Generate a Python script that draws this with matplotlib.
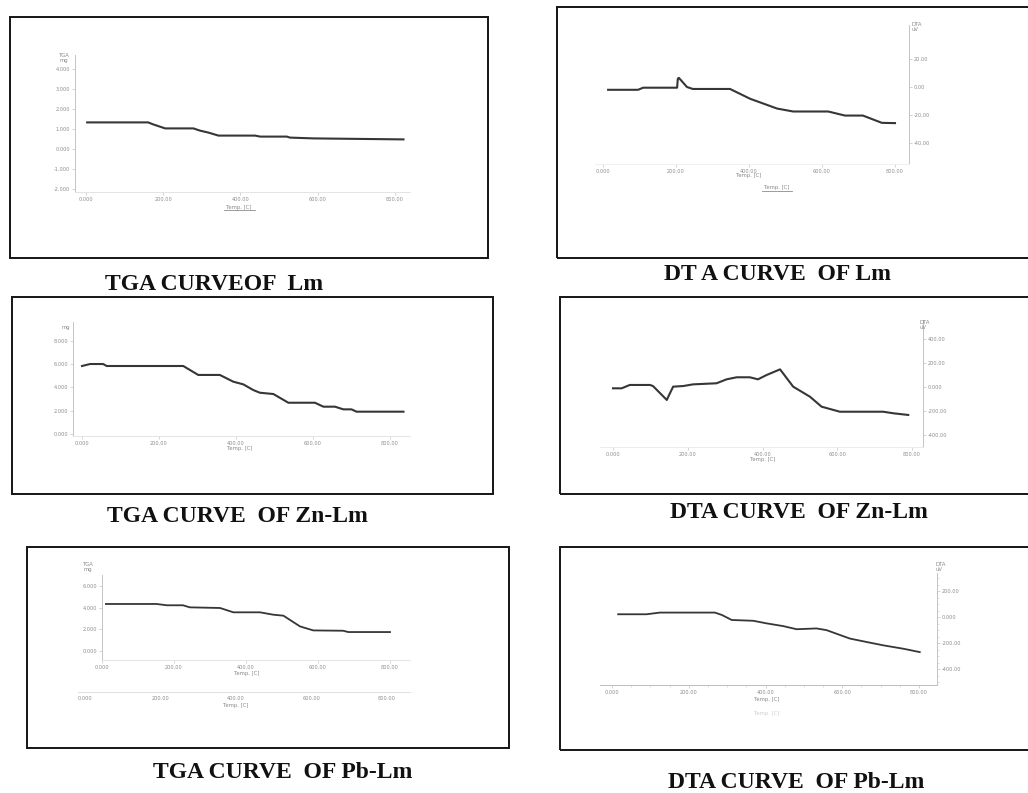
import matplotlib
matplotlib.use("Agg")
import matplotlib.pyplot as plt
from matplotlib.patches import Rectangle
from matplotlib.lines import Line2D

# ---------------- data ----------------
temp_ticks = [0, 200, 400, 600, 800]
temp_labels = ["0.000", "200.00", "400.00", "600.00", "800.00"]

# TGA of Lm (mg)
tga_lm_t = [3, 161, 174, 205, 278, 295, 317, 343, 438, 451, 520, 528, 589, 822]
tga_lm_v = [1.33, 1.33, 1.23, 1.03, 1.03, 0.92, 0.82, 0.67, 0.67, 0.62, 0.62, 0.57, 0.53, 0.48]
tga_lm_yticks = [4, 3, 2, 1, 0, -1, -2]
tga_lm_ylabels = ["4.000", "3.000", "2.000", "1.000", "0.000", "-1.000", "-2.000"]

# DTA of Lm (uV)
dta_lm_t = [14, 96, 110, 203, 205, 208, 230, 246, 348, 403, 477, 521, 617, 663, 712, 764, 800]
dta_lm_v = [-2, -2, -0.5, -0.5, 6.0, 6.5, 0, -1.4, -1.4, -8.4, -15.4, -17.5, -17.5, -20.4, -20.4, -25.6, -25.8]
dta_lm_yticks = [20, 0, -20, -40]
dta_lm_ylabels = ["20.00", "0.00", "-20.00", "-40.00"]

# TGA of Zn-Lm (mg)
tga_zn_t = [0, 21, 55, 64, 263, 302, 358, 393, 419, 445, 462, 497, 536, 605, 627, 657, 679, 700, 713, 835]
tga_zn_v = [5.85, 6.02, 6.02, 5.85, 5.85, 5.08, 5.08, 4.5, 4.27, 3.78, 3.55, 3.44, 2.69, 2.69, 2.35, 2.35, 2.12, 2.12, 1.92, 1.92]
tga_zn_yticks = [8, 6, 4, 2, 0]
tga_zn_ylabels = ["8.000", "6.000", "4.000", "2.000", "0.000"]

# DTA of Zn-Lm (uV)
dta_zn_t = [0, 23, 45, 99, 107, 144, 150, 161, 188, 214, 277, 304, 331, 366, 388, 411, 447, 482, 527, 558, 607, 723, 750, 790]
dta_zn_v = [-11, -11, 17, 17, 8, -108, -67, 3, 8, 22, 31, 64, 81, 81, 64, 100, 147, 3, -81, -164, -206, -206, -219, -233]
dta_zn_yticks = [400, 200, 0, -200, -400]
dta_zn_ylabels = ["400.00", "200.00", "0.000", "-200.00", "-400.00"]

# TGA of Pb-Lm (mg)
tga_pb_t = [11, 152, 180, 225, 244, 328, 365, 439, 476, 504, 550, 587, 670, 684, 800]
tga_pb_v = [4.34, 4.34, 4.22, 4.22, 4.03, 3.97, 3.57, 3.57, 3.35, 3.26, 2.27, 1.9, 1.87, 1.75, 1.75]
tga_pb_yticks = [6, 4, 2, 0]
tga_pb_ylabels = ["6.000", "4.000", "2.000", "0.000"]

# DTA of Pb-Lm (uV)
dta_pb_t = [16, 90, 125, 268, 286, 312, 368, 403, 446, 481, 533, 559, 620, 663, 707, 759, 802]
dta_pb_v = [21, 21, 34, 34, 16, -23, -29, -49, -70, -94, -88, -101, -166, -192, -218, -244, -270]
dta_pb_yticks = [200, 0, -200, -400]
dta_pb_ylabels = ["200.00", "0.000", "-200.00", "-400.00"]

captions = ["TGA CURVEOF  Lm", "DT A CURVE  OF Lm",
            "TGA CURVE  OF Zn-Lm", "DTA CURVE  OF Zn-Lm",
            "TGA CURVE  OF Pb-Lm", "DTA CURVE  OF Pb-Lm"]

# ---------------- layout helpers (pixel coordinates) ----------------
W, H = 1028, 793
fig = plt.figure(figsize=(W / 100, H / 100), dpi=100)
fig.patch.set_facecolor("white")

CURVE = "#363636"
TICKTXT = "#8c8c8c"
SPINE = "#c4c4c4"


def fx(px):
    return px / W


def fy(py):
    return 1 - py / H


def frame(l, t, r, b):
    fig.patches.append(Rectangle((fx(l), fy(b)), (r - l) / W, (b - t) / H,
                                 transform=fig.transFigure, fill=False,
                                 ec="#151515", lw=1.4))


def lin(p, m):
    p0, v0, p1, v1 = m
    return v0 + (p - p0) * (v1 - v0) / (p1 - p0)


def panel(rect, xmap, ymap, side, yticks, ylabels, bottom_color="#e4e4e4"):
    l, t, r, b = rect
    ax = fig.add_axes([fx(l), fy(b), (r - l) / W, (b - t) / H])
    ax.set_xlim(lin(l, xmap), lin(r, xmap))
    ax.set_ylim(lin(b, ymap), lin(t, ymap))
    ax.patch.set_alpha(0)
    ax.spines["top"].set_visible(False)
    if side == "left":
        ax.spines["right"].set_visible(False)
        ax.spines["left"].set_color(SPINE)
    else:
        ax.spines["left"].set_visible(False)
        ax.spines["right"].set_color(SPINE)
        ax.yaxis.tick_right()
    ax.spines["bottom"].set_color(bottom_color)
    for s in ax.spines.values():
        s.set_linewidth(0.7)
    ax.set_xticks(temp_ticks, temp_labels)
    ax.set_yticks(yticks, ylabels)
    ax.tick_params(labelsize=3.6, labelcolor=TICKTXT, color=SPINE,
                   length=2, width=0.5, pad=1.5)
    return ax


def small(x, y, s, color="#888888", size=3.8, ha="center", va="center"):
    fig.text(fx(x), fy(y), s, fontsize=size, color=color, ha=ha, va=va,
             linespacing=0.9)


def underline(x0, x1, y):
    fig.add_artist(Line2D([fx(x0), fx(x1)], [fy(y), fy(y)],
                          transform=fig.transFigure, color="#8c8c8c", lw=0.6))


# ---------------- frames ----------------
frame(10, 17, 488, 258)
frame(557, 7, 1040, 258)
frame(12, 297, 493, 494)
frame(560, 297, 1040, 494)
frame(27, 547, 509, 748)
frame(560, 547, 1040, 750)

# ---------------- TGA Lm ----------------
ax1 = panel((75, 55, 410, 192), (86, 0, 395, 800), (129, 1, 109, 2), "left",
            tga_lm_yticks, tga_lm_ylabels)
ax1.plot(tga_lm_t, tga_lm_v, color=CURVE, lw=1.5, solid_joinstyle="round")
small(64, 58, "TGA\nmg")
small(239, 207, "Temp. [C]")
underline(224, 255, 210)

# ---------------- DTA Lm ----------------
ax2 = panel((595, 25, 909, 164), (603, 0, 895, 800), (87, 0, 59, 20), "right",
            dta_lm_yticks, dta_lm_ylabels, bottom_color="#f0f0f0")
ax2.plot(dta_lm_t, dta_lm_v, color=CURVE, lw=1.5, solid_joinstyle="round")
small(911, 27, "DTA\nuV", ha="left")
small(749, 175, "Temp. [C]")
small(777, 188, "Temp. [C]")
underline(762, 792, 191)

# ---------------- TGA Zn-Lm ----------------
ax3 = panel((73, 322, 410, 436), (82, 0, 390, 800), (434, 0, 341, 8), "left",
            tga_zn_yticks, tga_zn_ylabels)
ax3.plot(tga_zn_t, tga_zn_v, color=CURVE, lw=1.5, solid_joinstyle="round")
small(66, 327, "mg")
small(240, 448, "Temp. [C]")

# ---------------- DTA Zn-Lm ----------------
ax4 = panel((600, 320, 923, 447), (613, 0, 912, 800), (387, 0, 363, 200), "right",
            dta_zn_yticks, dta_zn_ylabels, bottom_color="#ececec")
ax4.plot(dta_zn_t, dta_zn_v, color=CURVE, lw=1.5, solid_joinstyle="round")
small(920, 325, "DTA\nuV", ha="left")
small(763, 459, "Temp. [C]")

# ---------------- TGA Pb-Lm ----------------
ax5 = panel((102, 575, 410, 660), (102, 0, 390, 800), (651, 0, 586, 6), "left",
            tga_pb_yticks, tga_pb_ylabels)
ax5.plot(tga_pb_t, tga_pb_v, color=CURVE, lw=1.3, solid_joinstyle="round")
small(88, 567, "TGA\nmg")
small(247, 673, "Temp. [C]")

# second temperature scale row below the Pb-Lm TGA plot
ax5b = fig.add_axes([fx(78), fy(692), (410 - 78) / W, 1 / H])
ax5b.set_xlim(lin(78, (85, 0, 387, 800)), lin(410, (85, 0, 387, 800)))
ax5b.set_yticks([])
for s in ["top", "left", "right"]:
    ax5b.spines[s].set_visible(False)
ax5b.spines["bottom"].set_color("#e0e0e0")
ax5b.spines["bottom"].set_linewidth(0.7)
ax5b.patch.set_alpha(0)
ax5b.set_xticks(temp_ticks, temp_labels)
ax5b.tick_params(labelsize=3.6, labelcolor=TICKTXT, color=SPINE, length=0, pad=3)
small(236, 706, "Temp. [C]")

# ---------------- DTA Pb-Lm ----------------
ax6 = panel((600, 573, 937, 685), (612, 0, 919, 800), (617, 0, 591, 200), "right",
            dta_pb_yticks, dta_pb_ylabels, bottom_color="#bdbdbd")
ax6.plot(dta_pb_t, dta_pb_v, color=CURVE, lw=1.3, solid_joinstyle="round")
ax6.minorticks_on()
ax6.tick_params(which="minor", length=1.2, width=0.4, color=SPINE)
small(935, 567, "DTA\nuV", ha="left")
small(767, 699, "Temp. [C]")
small(767, 713, "Temp. [C]", color="#cfcfcf")

# ---------------- captions ----------------
cap_pos = [(214, 285), (777, 275), (237, 517), (799, 512), (283, 772), (796, 783)]
for (cx, cy), txt in zip(cap_pos, captions):
    fig.text(fx(cx), fy(cy), txt, fontsize=17, fontweight="bold",
             family=["Liberation Serif", "DejaVu Serif"], color="#111111",
             ha="center", va="center")

fig.savefig("out.png", dpi=100, facecolor="white")
